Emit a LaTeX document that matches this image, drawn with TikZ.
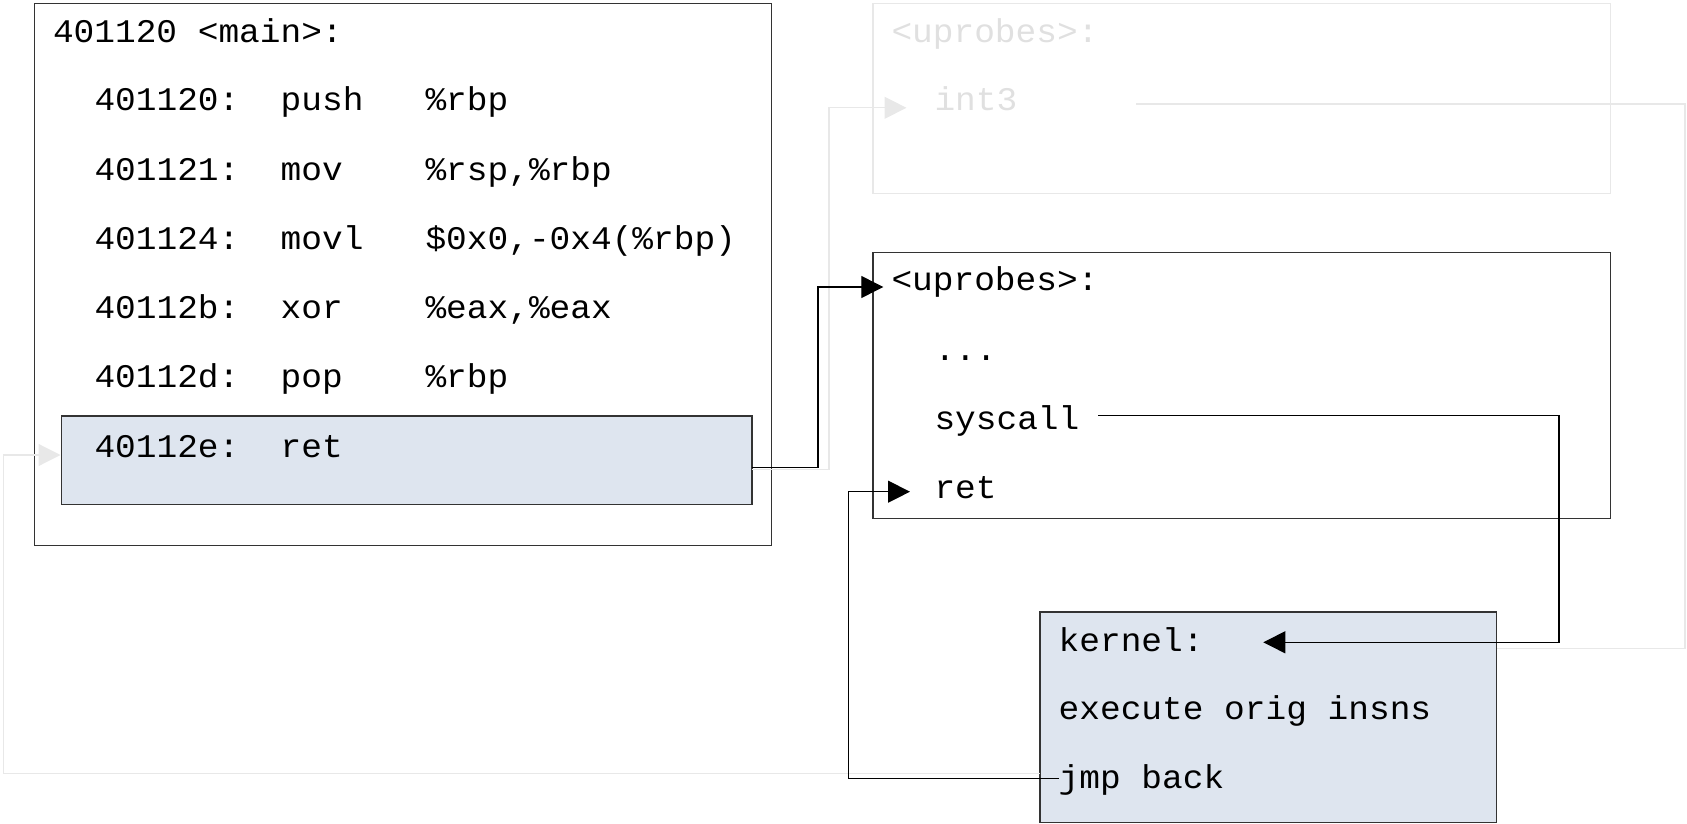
\documentclass[tikz,border=0pt]{standalone}
\usepackage{fontspec}
\newfontfamily\codefont[FakeStretch=1.045]{Liberation Mono}
\usetikzlibrary{arrows.meta}
\definecolor{hl}{RGB}{222,229,239}
\definecolor{faint}{RGB}{224,224,224}
\definecolor{faintline}{RGB}{232,232,232}
\definecolor{edge}{RGB}{51,51,51}
\begin{document}
\begin{tikzpicture}[x=1pt,y=-1pt,
  boxw/.style={draw=edge,line width=1.3pt,anchor=north west,inner sep=0pt,outer sep=0pt},
  boxh/.style={boxw,fill=hl},
  boxf/.style={draw=faintline,line width=1.3pt,anchor=north west,inner sep=0pt,outer sep=0pt},
  txt/.style={anchor=base west,inner sep=0pt,outer sep=0pt,font=\codefont\fontsize{33}{40}\selectfont,text=black},
  ftxt/.style={txt,text=faint},
  arr/.style={draw=black,line width=1.2pt,-{Triangle[length=22pt,width=22pt]}},
  farr/.style={draw=faintline,line width=1.2pt,-{Triangle[length=22pt,width=22pt]}},
  fline/.style={draw=faintline,line width=1.2pt},
]
\useasboundingbox (0,0) rectangle (1687,824);

% boxes
\node[boxw,minimum width=737pt,minimum height=542.5pt] (main) at (34.4,3.2) {};
\node[boxh,minimum width=690.5pt,minimum height=88.5pt] (retbox) at (61.5,416) {};
\node[boxf,minimum width=737.5pt,minimum height=190.5pt] (upf) at (873,3.2) {};
\node[boxw,minimum width=737.5pt,minimum height=265.8pt] (up) at (873,252.8) {};
\node[boxh,minimum width=456.6pt,minimum height=210.5pt] (kernel) at (1040,612) {};

% named connector ends
\coordinate (upin) at (883.3,287);
\coordinate (int3in) at (906.5,107.8);
\coordinate (int3out) at (1136,104);
\coordinate (sysout) at (1098.3,415.7);
\coordinate (kin) at (1263.3,642.3);
\coordinate (jmpout) at (1059,778.3);
\coordinate (retin) at (910,491.7);
\coordinate (mainin) at (60.5,455);

% faded connectors
\draw[farr] ([yshift=-9pt]retbox.east) -- ++(77,0) |- (int3in);
\draw[fline] (int3out) -- (1685,104) |- ([yshift=68.5pt]kernel.east);
\draw[farr] ([yshift=49pt]kernel.south west) -- ++(-1036.7,0) |- (mainin);

% black connectors
\draw[arr] ([yshift=-7.5pt]retbox.east) -- ++(66,0) |- (upin);
\draw[arr] (sysout) -- ++(460.7,0) |- (kin);
\draw[arr] (jmpout) -- ++(-210.7,0) |- (retin);

% main text
\node[txt] (mh) at (53,42.3) {401120 <main>:};
\node[txt] (m1) at (94.5,111) {401120:~~push~~~\%rbp};
\node[txt] (m2) at (94.5,180.2) {401121:~~mov~~~~\%rsp,\%rbp};
\node[txt] (m3) at (94.5,249.4) {401124:~~movl~~~\$0x0,-0x4(\%rbp)};
\node[txt] (m4) at (94.5,318.6) {40112b:~~xor~~~~\%eax,\%eax};
\node[txt] (m5) at (94.5,387.8) {40112d:~~pop~~~~\%rbp};
\node[txt] (m6) at (94.5,457.2) {40112e:~~ret};

% faded uprobes
\node[ftxt] (fh) at (891.5,42.3) {<uprobes>:};
\node[ftxt] (f1) at (934.5,110.5) {int3};

% uprobes
\node[txt] (uh) at (891.5,290.7) {<uprobes>:};
\node[txt] (u1) at (934.5,360.5) {...};
\node[txt] (u2) at (934.5,429.3) {syscall};
\node[txt] (u3) at (934.5,498.3) {ret};

% kernel
\node[txt] (k1) at (1058.7,651) {kernel:};
\node[txt] (k2) at (1058.7,719.5) {execute orig insns};
\node[txt] (k3) at (1058.7,788.3) {jmp back};
\end{tikzpicture}
\end{document}
